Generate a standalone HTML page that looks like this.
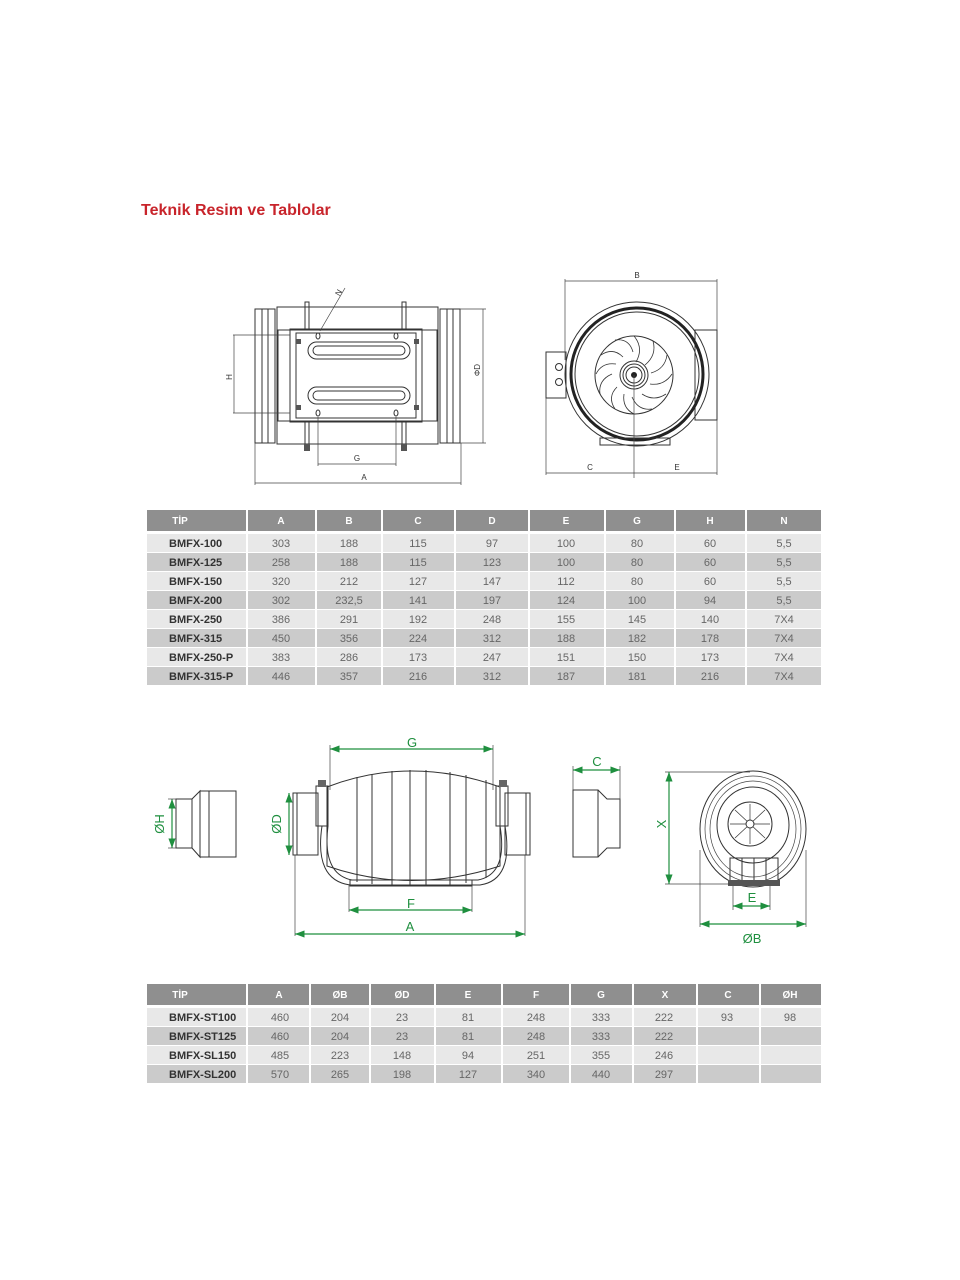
<!DOCTYPE html>
<html><head><meta charset="utf-8"><style>
html,body{margin:0;padding:0;background:#fff;}
svg{display:block;font-family:"Liberation Sans",sans-serif;}
.h{fill:#fff;font-size:10px;font-weight:bold;text-anchor:middle}
.c{fill:#666;font-size:11px;text-anchor:middle}
.t{fill:#333;font-size:11px;font-weight:bold}
.l{fill:none;stroke:#333;stroke-width:1}
.d{fill:none;stroke:#444;stroke-width:0.7}
.g{fill:none;stroke:#1f8f3f;stroke-width:1.2}
.gt{fill:#1f8f3f;font-size:13px;text-anchor:middle}
.dt{fill:#333;font-size:8px;text-anchor:middle}
</style></head><body>
<svg width="960" height="1280" viewBox="0 0 960 1280">
<text x="141" y="215" fill="#c8242b" font-size="16" font-weight="bold">Teknik Resim ve Tablolar</text>

<!-- ===== TOP LEFT DRAWING ===== -->
<g>
<rect class="l" x="255" y="309" width="20" height="134"/>
<rect class="l" x="262" y="309" width="6" height="134"/>
<rect class="l" x="277" y="307" width="161" height="137"/>
<rect class="l" x="278" y="330" width="159" height="91"/>
<rect class="l" x="290" y="329" width="132" height="93" stroke-width="1.3"/>
<rect class="l" x="296" y="333" width="120" height="85"/>
<rect class="l" x="440" y="309" width="20" height="134"/>
<rect class="l" x="447" y="309" width="6" height="134"/>
<rect x="308" y="342" width="102" height="17" rx="8.5" class="l" stroke-width="1.6"/>
<rect x="313" y="346" width="92" height="9" rx="4.5" class="l"/>
<rect x="308" y="387" width="102" height="17" rx="8.5" class="l" stroke-width="1.6"/>
<rect x="313" y="391" width="92" height="9" rx="4.5" class="l"/>
<rect x="305" y="302" width="4" height="28" class="l" fill="#fff"/>
<rect x="402" y="302" width="4" height="28" class="l" fill="#fff"/>
<rect x="305" y="421" width="4" height="28" class="l"/>
<rect x="402" y="421" width="4" height="28" class="l"/>
<rect x="304" y="444" width="6" height="7" fill="#555"/>
<rect x="401" y="444" width="6" height="7" fill="#555"/>
<ellipse cx="318" cy="336" rx="2" ry="3" class="l"/><ellipse cx="396" cy="336" rx="2" ry="3" class="l"/>
<ellipse cx="318" cy="413" rx="2" ry="3" class="l"/><ellipse cx="396" cy="413" rx="2" ry="3" class="l"/>
<rect x="296" y="339" width="5" height="5" fill="#555"/><rect x="414" y="339" width="5" height="5" fill="#555"/>
<rect x="296" y="405" width="5" height="5" fill="#555"/><rect x="414" y="405" width="5" height="5" fill="#555"/>
<line class="d" x1="320" y1="331" x2="345" y2="288"/>
<text class="dt" x="341" y="294" transform="rotate(-60 341 294)">N</text>
<line class="d" x1="233" y1="335" x2="290" y2="335"/><line class="d" x1="233" y1="413" x2="290" y2="413"/>
<line class="d" x1="234" y1="335" x2="234" y2="413"/><text class="dt" x="229" y="380" transform="rotate(-90 229 377)">H</text>
<line class="d" x1="460" y1="309" x2="486" y2="309"/><line class="d" x1="460" y1="443" x2="486" y2="443"/>
<line class="d" x1="483" y1="309" x2="483" y2="443"/><text class="dt" x="478" y="372" transform="rotate(-90 478 370)">ΦD</text>
<line class="d" x1="318" y1="417" x2="318" y2="466"/><line class="d" x1="396" y1="417" x2="396" y2="466"/>
<line class="d" x1="318" y1="464" x2="396" y2="464"/><text class="dt" x="357" y="461" font-size="9">G</text>
<line class="d" x1="255" y1="443" x2="255" y2="485"/><line class="d" x1="461" y1="443" x2="461" y2="485"/>
<line class="d" x1="255" y1="483" x2="461" y2="483"/><text class="dt" x="364" y="480">A</text>
</g>

<!-- ===== TOP RIGHT DRAWING ===== -->
<g>
<rect class="l" x="695" y="330" width="22" height="90"/>
<rect class="l" x="546" y="352" width="20" height="46" fill="#eee"/>
<circle cx="559" cy="367" r="3.5" class="l"/><circle cx="559" cy="382" r="3.5" class="l"/>
<circle cx="637" cy="374" r="72" class="l" fill="#fff"/>
<circle cx="637" cy="374" r="66" fill="none" stroke="#222" stroke-width="3"/>
<circle cx="637" cy="374" r="62" class="l"/>
<circle cx="634" cy="375" r="39" class="l"/>
<g stroke="#333" stroke-width="0.8" fill="none">
<path d="M634 336 q10 12 2 26"/><path d="M653 341 q4 14 -8 24"/><path d="M667 355 q-2 14 -16 18"/><path d="M672 374 q-8 12 -22 10"/>
<path d="M666 394 q-12 8 -24 0"/><path d="M652 409 q-14 2 -20 -12"/><path d="M634 414 q-12 -6 -10 -20"/><path d="M615 409 q-8 -12 2 -22"/>
<path d="M600 394 q-2 -14 12 -20"/><path d="M596 374 q6 -12 20 -10"/><path d="M601 355 q12 -8 22 2"/><path d="M615 340 q14 -2 18 12"/>
</g>
<circle cx="634" cy="375" r="14" class="l"/><circle cx="634" cy="375" r="11" class="l"/><circle cx="634" cy="375" r="8" class="l"/>
<circle cx="634" cy="375" r="3" fill="#222"/>
<path d="M600 438 h70 v7 h-70z" class="l"/>
<line class="d" x1="565" y1="279" x2="565" y2="360"/><line class="d" x1="717" y1="279" x2="717" y2="330"/>
<line class="d" x1="565" y1="281" x2="717" y2="281"/><text class="dt" x="637" y="278">B</text>
<line class="d" x1="546" y1="398" x2="546" y2="475"/><line class="d" x1="717" y1="420" x2="717" y2="475"/>
<line class="d" x1="634" y1="375" x2="634" y2="478"/>
<line class="d" x1="546" y1="473" x2="717" y2="473"/>
<text class="dt" x="590" y="470">C</text><text class="dt" x="677" y="470">E</text>
</g>

<!-- ===== TABLE 1 ===== -->
<g>
<rect x="147" y="510" width="674" height="21" fill="#8f8f8f"/>
<rect x="147" y="534" width="674" height="18" fill="#e8e8e8"/>
<rect x="147" y="553" width="674" height="18" fill="#cbcbcb"/>
<rect x="147" y="572" width="674" height="18" fill="#e8e8e8"/>
<rect x="147" y="591" width="674" height="18" fill="#cbcbcb"/>
<rect x="147" y="610" width="674" height="18" fill="#e8e8e8"/>
<rect x="147" y="629" width="674" height="18" fill="#cbcbcb"/>
<rect x="147" y="648" width="674" height="18" fill="#e8e8e8"/>
<rect x="147" y="667" width="674" height="18" fill="#cbcbcb"/>
<g stroke="#fff" stroke-width="2">
<line x1="247" y1="508" x2="247" y2="686"/><line x1="316" y1="508" x2="316" y2="686"/><line x1="382" y1="508" x2="382" y2="686"/>
<line x1="455" y1="508" x2="455" y2="686"/><line x1="529" y1="508" x2="529" y2="686"/><line x1="605" y1="508" x2="605" y2="686"/>
<line x1="675" y1="508" x2="675" y2="686"/><line x1="746" y1="508" x2="746" y2="686"/>
</g>
<text class="h" x="180" y="524">TİP</text><text class="h" x="281" y="524">A</text><text class="h" x="349" y="524">B</text><text class="h" x="418" y="524">C</text><text class="h" x="492" y="524">D</text><text class="h" x="566" y="524">E</text><text class="h" x="637" y="524">G</text><text class="h" x="710" y="524">H</text><text class="h" x="784" y="524">N</text>
<g>
<text class="t" x="169" y="547">BMFX-100</text><text class="c" x="281" y="547">303</text><text class="c" x="349" y="547">188</text><text class="c" x="418" y="547">115</text><text class="c" x="492" y="547">97</text><text class="c" x="566" y="547">100</text><text class="c" x="637" y="547">80</text><text class="c" x="710" y="547">60</text><text class="c" x="784" y="547">5,5</text>
<text class="t" x="169" y="566">BMFX-125</text><text class="c" x="281" y="566">258</text><text class="c" x="349" y="566">188</text><text class="c" x="418" y="566">115</text><text class="c" x="492" y="566">123</text><text class="c" x="566" y="566">100</text><text class="c" x="637" y="566">80</text><text class="c" x="710" y="566">60</text><text class="c" x="784" y="566">5,5</text>
<text class="t" x="169" y="585">BMFX-150</text><text class="c" x="281" y="585">320</text><text class="c" x="349" y="585">212</text><text class="c" x="418" y="585">127</text><text class="c" x="492" y="585">147</text><text class="c" x="566" y="585">112</text><text class="c" x="637" y="585">80</text><text class="c" x="710" y="585">60</text><text class="c" x="784" y="585">5,5</text>
<text class="t" x="169" y="604">BMFX-200</text><text class="c" x="281" y="604">302</text><text class="c" x="349" y="604">232,5</text><text class="c" x="418" y="604">141</text><text class="c" x="492" y="604">197</text><text class="c" x="566" y="604">124</text><text class="c" x="637" y="604">100</text><text class="c" x="710" y="604">94</text><text class="c" x="784" y="604">5,5</text>
<text class="t" x="169" y="623">BMFX-250</text><text class="c" x="281" y="623">386</text><text class="c" x="349" y="623">291</text><text class="c" x="418" y="623">192</text><text class="c" x="492" y="623">248</text><text class="c" x="566" y="623">155</text><text class="c" x="637" y="623">145</text><text class="c" x="710" y="623">140</text><text class="c" x="784" y="623">7X4</text>
<text class="t" x="169" y="642">BMFX-315</text><text class="c" x="281" y="642">450</text><text class="c" x="349" y="642">356</text><text class="c" x="418" y="642">224</text><text class="c" x="492" y="642">312</text><text class="c" x="566" y="642">188</text><text class="c" x="637" y="642">182</text><text class="c" x="710" y="642">178</text><text class="c" x="784" y="642">7X4</text>
<text class="t" x="169" y="661">BMFX-250-P</text><text class="c" x="281" y="661">383</text><text class="c" x="349" y="661">286</text><text class="c" x="418" y="661">173</text><text class="c" x="492" y="661">247</text><text class="c" x="566" y="661">151</text><text class="c" x="637" y="661">150</text><text class="c" x="710" y="661">173</text><text class="c" x="784" y="661">7X4</text>
<text class="t" x="169" y="680">BMFX-315-P</text><text class="c" x="281" y="680">446</text><text class="c" x="349" y="680">357</text><text class="c" x="418" y="680">216</text><text class="c" x="492" y="680">312</text><text class="c" x="566" y="680">187</text><text class="c" x="637" y="680">181</text><text class="c" x="710" y="680">216</text><text class="c" x="784" y="680">7X4</text>
</g>
</g>

<!-- ===== BOTTOM DRAWINGS ===== -->
<defs><marker id="a" markerWidth="8" markerHeight="6" refX="8" refY="3" orient="auto-start-reverse"><path d="M0,0 L8,3 L0,6z" fill="#1f8f3f"/></marker></defs>
<g>
<!-- left reducer -->
<rect class="l" x="176" y="799" width="16" height="49"/>
<path class="l" d="M192 799 L200 791 V857 L192 848"/>
<rect class="l" x="200" y="791" width="9" height="66"/>
<rect class="l" x="209" y="791" width="27" height="66"/>
<line class="g" x1="172" y1="799" x2="172" y2="848" marker-start="url(#a)" marker-end="url(#a)"/>
<line class="d" x1="168" y1="799" x2="176" y2="799"/><line class="d" x1="168" y1="848" x2="176" y2="848"/>
<text class="gt" x="160" y="828" transform="rotate(-90 160 824)">ØH</text>
<!-- main -->
<rect class="l" x="293" y="793" width="25" height="62"/><line class="l" x1="297" y1="793" x2="297" y2="855"/>
<rect class="l" x="505" y="793" width="25" height="62"/><line class="l" x1="526" y1="793" x2="526" y2="855"/>
<path class="l" d="M327 787 Q410 755 500 787 V866 Q410 895 327 866 Z" stroke-width="1.2"/>
<g stroke="#333" stroke-width="1">
<line x1="357" y1="777" x2="357" y2="882"/><line x1="372" y1="774" x2="372" y2="884"/><line x1="392" y1="771" x2="392" y2="886"/><line x1="410" y1="770" x2="410" y2="886"/><line x1="426" y1="770" x2="426" y2="886"/><line x1="450" y1="772" x2="450" y2="885"/><line x1="466" y1="775" x2="466" y2="883"/><line x1="486" y1="780" x2="486" y2="878"/>
</g>
<rect class="l" x="316" y="786" width="12" height="40"/><rect class="l" x="496" y="786" width="12" height="40"/>
<rect x="318" y="780" width="8" height="7" fill="#666"/><rect x="499" y="780" width="8" height="7" fill="#666"/>
<path class="l" d="M322 826 Q314 880 350 885 H480 Q514 880 505 826"/>
<path class="l" d="M328 826 Q322 874 352 880 H478 Q508 874 500 826"/>
<rect class="l" x="350" y="880" width="122" height="6"/>
<line class="g" x1="289" y1="793" x2="289" y2="855" marker-start="url(#a)" marker-end="url(#a)"/>
<text class="gt" x="277" y="828" transform="rotate(-90 277 824)">ØD</text>
<line class="d" x1="330" y1="745" x2="330" y2="790"/><line class="d" x1="493" y1="745" x2="493" y2="790"/>
<line class="g" x1="330" y1="749" x2="493" y2="749" marker-start="url(#a)" marker-end="url(#a)"/>
<text class="gt" x="412" y="747">G</text>
<line class="d" x1="349" y1="885" x2="349" y2="912"/><line class="d" x1="472" y1="885" x2="472" y2="912"/>
<line class="g" x1="349" y1="910" x2="472" y2="910" marker-start="url(#a)" marker-end="url(#a)"/>
<text class="gt" x="411" y="908">F</text>
<line class="d" x1="295" y1="855" x2="295" y2="936"/><line class="d" x1="525" y1="855" x2="525" y2="936"/>
<line class="g" x1="295" y1="934" x2="525" y2="934" marker-start="url(#a)" marker-end="url(#a)"/>
<text class="gt" x="410" y="931">A</text>
<!-- right reducer -->
<rect class="l" x="573" y="790" width="25" height="67"/>
<path class="l" d="M598 790 L607 799 H620 V848 H607 L598 857"/>
<line class="d" x1="573" y1="766" x2="573" y2="790"/><line class="d" x1="620" y1="766" x2="620" y2="800"/>
<line class="g" x1="573" y1="770" x2="620" y2="770" marker-start="url(#a)" marker-end="url(#a)"/>
<text class="gt" x="597" y="766">C</text>
<!-- front view -->
<ellipse cx="753" cy="829" rx="53" ry="58" class="l"/>
<ellipse cx="753" cy="829" rx="48" ry="53" class="d"/>
<ellipse cx="753" cy="829" rx="43" ry="48" class="d"/>
<ellipse cx="753" cy="825" rx="36" ry="38" class="l"/>
<circle cx="750" cy="824" r="22" class="l"/>
<g stroke="#333" stroke-width="0.7">
<line x1="750" y1="824" x2="750" y2="804"/><line x1="750" y1="824" x2="765" y2="810"/><line x1="750" y1="824" x2="770" y2="824"/><line x1="750" y1="824" x2="765" y2="838"/><line x1="750" y1="824" x2="750" y2="844"/><line x1="750" y1="824" x2="735" y2="838"/><line x1="750" y1="824" x2="730" y2="824"/><line x1="750" y1="824" x2="735" y2="810"/>
</g>
<circle cx="750" cy="824" r="4" fill="#fff" stroke="#333"/>
<rect class="l" x="730" y="858" width="48" height="27" fill="#fff"/>
<line class="l" x1="742" y1="858" x2="742" y2="885"/><line class="l" x1="754" y1="858" x2="754" y2="885"/><line class="l" x1="766" y1="858" x2="766" y2="885"/>
<rect x="728" y="880" width="52" height="6" fill="#555"/>
<line class="d" x1="665" y1="772" x2="750" y2="772"/><line class="d" x1="665" y1="884" x2="730" y2="884"/>
<line class="g" x1="669" y1="772" x2="669" y2="884" marker-start="url(#a)" marker-end="url(#a)"/>
<text class="gt" x="666" y="832" transform="rotate(-90 662 828)">X</text>
<line class="d" x1="733" y1="886" x2="733" y2="910"/><line class="d" x1="770" y1="886" x2="770" y2="910"/>
<line class="g" x1="733" y1="906" x2="770" y2="906" marker-start="url(#a)" marker-end="url(#a)"/>
<text class="gt" x="752" y="902">E</text>
<line class="d" x1="700" y1="850" x2="700" y2="927"/><line class="d" x1="806" y1="850" x2="806" y2="927"/>
<line class="g" x1="700" y1="924" x2="806" y2="924" marker-start="url(#a)" marker-end="url(#a)"/>
<text class="gt" x="752" y="943">ØB</text>
</g>

<!-- ===== TABLE 2 ===== -->
<g>
<rect x="147" y="984" width="674" height="21" fill="#8f8f8f"/>
<rect x="147" y="1008" width="674" height="18" fill="#e8e8e8"/>
<rect x="147" y="1027" width="674" height="18" fill="#cbcbcb"/>
<rect x="147" y="1046" width="674" height="18" fill="#e8e8e8"/>
<rect x="147" y="1065" width="674" height="18" fill="#cbcbcb"/>
<g stroke="#fff" stroke-width="2">
<line x1="247" y1="982" x2="247" y2="1084"/><line x1="310" y1="982" x2="310" y2="1084"/><line x1="370" y1="982" x2="370" y2="1084"/>
<line x1="435" y1="982" x2="435" y2="1084"/><line x1="502" y1="982" x2="502" y2="1084"/><line x1="570" y1="982" x2="570" y2="1084"/>
<line x1="633" y1="982" x2="633" y2="1084"/><line x1="697" y1="982" x2="697" y2="1084"/><line x1="760" y1="982" x2="760" y2="1084"/>
</g>
<text class="h" x="180" y="998">TİP</text><text class="h" x="279" y="998">A</text><text class="h" x="340" y="998">ØB</text><text class="h" x="402" y="998">ØD</text><text class="h" x="468" y="998">E</text><text class="h" x="536" y="998">F</text><text class="h" x="601" y="998">G</text><text class="h" x="665" y="998">X</text><text class="h" x="728" y="998">C</text><text class="h" x="790" y="998">ØH</text>
<text class="t" x="169" y="1021">BMFX-ST100</text><text class="c" x="280" y="1021">460</text><text class="c" x="340" y="1021">204</text><text class="c" x="402" y="1021">23</text><text class="c" x="468" y="1021">81</text><text class="c" x="536" y="1021">248</text><text class="c" x="601" y="1021">333</text><text class="c" x="664" y="1021">222</text><text class="c" x="727" y="1021">93</text><text class="c" x="790" y="1021">98</text>
<text class="t" x="169" y="1040">BMFX-ST125</text><text class="c" x="280" y="1040">460</text><text class="c" x="340" y="1040">204</text><text class="c" x="402" y="1040">23</text><text class="c" x="468" y="1040">81</text><text class="c" x="536" y="1040">248</text><text class="c" x="601" y="1040">333</text><text class="c" x="664" y="1040">222</text>
<text class="t" x="169" y="1059">BMFX-SL150</text><text class="c" x="280" y="1059">485</text><text class="c" x="340" y="1059">223</text><text class="c" x="402" y="1059">148</text><text class="c" x="468" y="1059">94</text><text class="c" x="536" y="1059">251</text><text class="c" x="601" y="1059">355</text><text class="c" x="664" y="1059">246</text>
<text class="t" x="169" y="1078">BMFX-SL200</text><text class="c" x="280" y="1078">570</text><text class="c" x="340" y="1078">265</text><text class="c" x="402" y="1078">198</text><text class="c" x="468" y="1078">127</text><text class="c" x="536" y="1078">340</text><text class="c" x="601" y="1078">440</text><text class="c" x="664" y="1078">297</text>
</g>
</svg>
</body></html>
